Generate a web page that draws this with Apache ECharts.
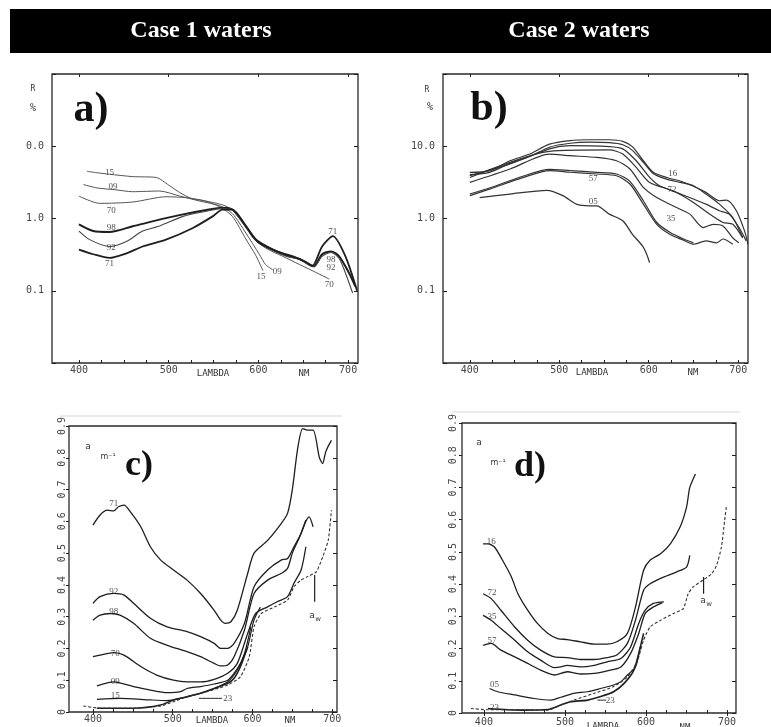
<!DOCTYPE html>
<html><head><meta charset="utf-8">
<script src="https://cdn.jsdelivr.net/npm/echarts@6/dist/echarts.min.js"></script>
<style>html,body{margin:0;padding:0;background:#fff}#c{width:771px;height:727px}</style>
</head><body><div id="c"></div>
<script>
// ---------- DATA ----------
// Panel a) Case 1 reflectance R (%), log scale
const a15_wl = [409,420,434,460,486,500,512,525,540,557,571,586,597,605];
const a15_R  = [4.5,4.3,4.1,3.8,3.7,2.9,2.3,1.9,1.75,1.45,1.07,0.52,0.31,0.19];
const a09_wl = [405,420,440,460,490,512,534,557,571,586,601,608,616];
const a09_R  = [2.95,2.65,2.5,2.35,2.4,2.05,1.75,1.5,1.17,0.63,0.32,0.23,0.195];
const a70_wl = [400,423,460,497,520,542,564,579,594,608,627,646,660,679];
const a70_R  = [2.04,1.62,1.69,2.0,1.94,1.74,1.48,1.07,0.54,0.39,0.30,0.23,0.19,0.145];
const a98_wl = [400,416,434,460,483,516,542,560,571,586,597,616,631,646,657,662,671,681,690,701,708];
const a98_R  = [0.83,0.67,0.65,0.78,0.92,1.14,1.31,1.41,1.33,0.78,0.51,0.37,0.31,0.275,0.23,0.22,0.32,0.35,0.30,0.176,0.115];
const a92_wl = [400,412,434,453,471,490,516,542,560,571,586,597,616,631,646,657,662,671,681,690,697,705];
const a92_R  = [0.67,0.51,0.41,0.48,0.67,0.79,1.07,1.26,1.38,1.32,0.76,0.50,0.36,0.30,0.27,0.224,0.214,0.30,0.34,0.28,0.176,0.093];
const a71_wl = [400,416,434,453,471,497,527,549,560,571,586,600,620,640,653,660,671,683,697,710];
const a71_R  = [0.37,0.32,0.285,0.33,0.41,0.51,0.74,1.07,1.33,1.33,0.79,0.47,0.355,0.295,0.25,0.22,0.41,0.57,0.30,0.10];
const aLabels = [[434,4.3,'15'],[438,2.75,'09'],[436,1.3,'70'],[436,0.74,'98'],[436,0.40,'92'],[434,0.24,'71'],
                 [603,0.158,'15'],[621,0.186,'09'],[679,0.121,'70'],[683,0.667,'71'],[681,0.27,'98'],[681,0.206,'92']];

// Panel b) Case 2 reflectance R (%), log scale
const b16_wl  = [400,422,445,467,489,512,534,556,571,582,594,605,620,635,650,664,679,687,698,707,711];
const b16_R   = [4.35,4.57,6.3,7.8,10.7,12.0,12.3,12.3,11.7,9.8,6.3,4.37,3.7,3.3,2.8,2.3,1.76,1.8,1.28,0.68,0.44];
const b16b_wl = [400,422,445,467,489,512,534,556,571,582,594,605,620,635,650,664,679,694,705];
const b16b_R  = [4.04,4.35,5.8,7.2,9.7,11.0,11.4,11.2,10.5,8.7,6.0,4.2,3.5,3.16,2.84,2.18,1.58,1.03,0.55];
const b72_wl  = [400,445,489,512,556,571,586,601,612,631,650,664,679,690,701,709];
const b72_R   = [3.9,5.7,9.2,10.2,9.9,9.2,6.3,3.7,2.84,2.3,1.86,1.58,1.28,1.15,0.75,0.49];
const b72b_wl = [400,489,556,571,586,601,627,650,668,683,694,705];
const b72b_R  = [3.7,8.5,8.9,7.8,5.1,3.16,2.42,1.67,1.15,0.88,0.83,0.54];
const b35_wl  = [400,445,489,512,542,564,579,594,609,627,646,661,672,683,694,701];
const b35_R   = [3.16,4.84,7.8,7.4,7.0,6.3,4.84,2.7,1.95,1.5,1.15,0.75,0.83,0.79,0.54,0.46];
const b57_wl  = [400,422,460,489,512,542,564,579,594,609,624,639,650,664,676,683,694];
const b57_R   = [2.07,2.55,3.7,4.6,4.37,4.13,3.9,3.0,1.58,0.83,0.6,0.5,0.44,0.49,0.46,0.52,0.44];
const b57b_wl = [400,422,460,489,512,542,564,579,594,609,624,639,650];
const b57b_R  = [2.18,2.64,3.87,4.79,4.6,4.35,4.13,3.27,1.76,0.88,0.64,0.52,0.46];
const b05_wl  = [411,445,486,504,519,534,542,556,571,582,594,601];
const b05_R   = [1.95,2.18,2.45,2.07,1.58,1.5,1.5,1.15,0.93,0.6,0.4,0.245];
const bLabels = [[627,4.2,'16'],[626,2.47,'72'],[625,1.0,'35'],[538,3.6,'57'],[538,1.72,'05']];

// Panel c) Case 1 absorption a (m-1)
const c71_wl = [400,409,418,426,432,439,447,460,472,485,501,518,535,552,560,566,573,581,594,602,619,636,644,650,657,663,669,676,684,688,692,699];
const c71_a  = [0.588,0.62,0.635,0.633,0.646,0.651,0.63,0.583,0.52,0.478,0.447,0.415,0.373,0.32,0.29,0.279,0.284,0.32,0.436,0.5,0.54,0.593,0.625,0.70,0.834,0.892,0.887,0.887,0.80,0.782,0.82,0.855];
const c92_wl = [400,409,426,439,451,472,493,518,535,552,560,569,577,590,602,619,636,644,652,661,667,671,676];
const c92_a  = [0.342,0.363,0.373,0.368,0.342,0.295,0.268,0.253,0.237,0.216,0.20,0.20,0.216,0.279,0.394,0.447,0.478,0.483,0.52,0.562,0.6,0.614,0.583];
const c98_wl = [400,409,422,434,451,472,493,518,535,552,560,569,577,590,602,619,636,644,650,659,667];
const c98_a  = [0.289,0.305,0.31,0.305,0.279,0.232,0.21,0.19,0.174,0.153,0.145,0.148,0.174,0.258,0.373,0.415,0.436,0.452,0.5,0.55,0.604];
const c70_wl = [400,409,426,439,460,480,501,518,535,552,569,581,594,604,619,631,644,652,661,667];
const c70_a  = [0.174,0.179,0.187,0.179,0.143,0.116,0.10,0.095,0.095,0.103,0.122,0.153,0.247,0.31,0.331,0.347,0.363,0.405,0.447,0.52];
const c09_wl = [405,426,451,472,493,510,518,535,552,569,577,585,594,602,610];
const c09_a  = [0.082,0.095,0.08,0.069,0.061,0.064,0.074,0.08,0.088,0.10,0.122,0.153,0.205,0.29,0.33];
const c15_wl = [405,434,472,493,510,535,552,569,581,590,598];
const c15_a  = [0.04,0.043,0.038,0.036,0.043,0.059,0.074,0.095,0.132,0.184,0.268];
const c23_wl = [405,451,485,501,518,535,552,569,577,585,594];
const c23_a  = [0.012,0.012,0.022,0.038,0.048,0.059,0.074,0.09,0.106,0.143,0.205];
const cAw_wl = [388,409,451,485,501,518,543,569,585,596,602,611,628,644,652,661,669,680,688,695,699];
const cAw_a  = [0.019,0.012,0.012,0.019,0.032,0.048,0.064,0.085,0.111,0.174,0.268,0.31,0.331,0.352,0.394,0.415,0.426,0.441,0.488,0.54,0.635];
const cLabels = [[426,0.656,'71'],[426,0.378,'92'],[426,0.316,'98'],[428,0.184,'70'],[428,0.095,'09'],[428,0.053,'15'],[569,0.043,'23']];
const cLead_wl = [533,562]; const cLead_a = [0.043,0.043];
const cArrow_wl = [678,678]; const cArrow_a = [0.347,0.431];

// Panel d) Case 2 absorption a (m-1)
const d16_wl = [399,405,413,423,434,442,454,466,479,491,503,519,536,552,564,577,587,597,605,618,630,642,650,654,661];
const d16_a  = [0.525,0.525,0.515,0.474,0.422,0.37,0.319,0.278,0.247,0.231,0.228,0.221,0.214,0.214,0.221,0.247,0.329,0.443,0.474,0.494,0.525,0.577,0.639,0.70,0.742];
const d72_wl = [399,409,421,438,454,470,487,503,519,536,552,564,577,587,597,605,622,638,650,654];
const d72_a  = [0.37,0.355,0.319,0.267,0.226,0.195,0.174,0.172,0.166,0.166,0.172,0.18,0.216,0.288,0.381,0.401,0.422,0.438,0.453,0.489];
const d35_wl = [399,409,421,438,454,470,487,495,503,519,536,552,569,581,591,599,609,622];
const d35_a  = [0.303,0.288,0.262,0.226,0.19,0.164,0.141,0.143,0.148,0.143,0.148,0.159,0.169,0.205,0.278,0.319,0.34,0.345];
const d57_wl = [399,409,421,438,454,470,487,503,519,536,552,569,581,591,599,609,620];
const d57_a  = [0.21,0.216,0.195,0.174,0.154,0.133,0.118,0.128,0.121,0.123,0.131,0.143,0.185,0.247,0.309,0.329,0.342];
const d05_wl = [407,417,438,462,483,495,511,528,544,560,569,577,587,593];
const d05_a  = [0.076,0.066,0.056,0.045,0.04,0.049,0.061,0.066,0.076,0.087,0.097,0.118,0.143,0.205];
const d23_wl = [405,446,479,495,507,528,544,560,573,585,593,597];
const d23_a  = [0.014,0.009,0.011,0.025,0.035,0.04,0.051,0.066,0.092,0.133,0.205,0.247];
const dAw_wl = [384,405,446,479,495,511,536,560,577,589,597,605,618,634,646,652,658,670,681,687,693,697,699];
const dAw_a  = [0.014,0.01,0.01,0.009,0.025,0.04,0.061,0.082,0.112,0.159,0.226,0.267,0.288,0.309,0.324,0.37,0.391,0.412,0.432,0.458,0.515,0.598,0.639];
const dLabels = [[409,0.532,'16'],[410,0.374,'72'],[410,0.298,'35'],[410,0.224,'57'],[413,0.087,'05'],[413,0.017,'23'],[556,0.038,'23']];
const dLead_wl = [540,551]; const dLead_a = [0.04,0.04];
const dArrow_wl = [671,671]; const dArrow_a = [0.37,0.422];

// Tick labels
const xTickLabels = [400,500,600,700];
const xMinorTicks = [400,425,450,475,500,525,550,575,600,625,650,675,700];
const aYTickText = {10:'0.0', 1:'1.0', 0.1:'0.1'};
const bYTickText = {10:'10.0', 1:'1.0', 0.1:'0.1'};

// ---------- CHART ----------
const zip = (w, v) => w.map((x, i) => [x, v[i]]);
const INK = '#1e1e1e';
const tickFont = {fontFamily:'DejaVu Sans Mono', fontSize:10, color:'#444'};

const grids = [
  {left:52, top:74, width:306, height:289},
  {left:443, top:74, width:305, height:289},
  {left:69, top:426, width:268, height:286},
  {left:462, top:423, width:274, height:290}
].map(g => Object.assign({show:true, borderColor:'#2a2a2a', borderWidth:1.3, backgroundColor:'transparent'}, g));

const xRanges = [[370,711],[370,711],[370,706],[373,711]];
const xLabelMargin = [2,2,2,4];
const xAxes = [];
const yAxes = [];
for (let g = 0; g < 4; g++) {
  xAxes.push({type:'value', gridIndex:g, min:xRanges[g][0], max:xRanges[g][1], position:'bottom',
    axisLine:{show:false}, splitLine:{show:false},
    axisTick:{show:true, inside:true, length:3, customValues:xMinorTicks, lineStyle:{color:INK}},
    axisLabel:Object.assign({show:true, margin:xLabelMargin[g], customValues:xTickLabels}, tickFont)});
  xAxes.push({type:'value', gridIndex:g, min:xRanges[g][0], max:xRanges[g][1], position:'top',
    axisLine:{show:false}, splitLine:{show:false}, axisLabel:{show:false},
    axisTick:{show:true, inside:true, length:3, customValues:xTickLabels, lineStyle:{color:INK}}});
  if (g < 2) {
    const txt = g === 0 ? aYTickText : bYTickText;
    yAxes.push({type:'log', logBase:10, gridIndex:g, min:0.01, max:100, position:'left',
      axisLine:{show:false}, splitLine:{show:false}, minorTick:{show:false},
      axisTick:{show:true, inside:true, length:4, lineStyle:{color:INK}},
      axisLabel:Object.assign({margin:8, formatter: v => txt[v] !== undefined ? txt[v] : (Math.abs(v-10)<1e-6?txt[10]:Math.abs(v-1)<1e-6?txt[1]:Math.abs(v-0.1)<1e-6?txt[0.1]:'')}, tickFont)});
    yAxes.push({type:'log', logBase:10, gridIndex:g, min:0.01, max:100, position:'right',
      axisLine:{show:false}, splitLine:{show:false}, axisLabel:{show:false},
      axisTick:{show:true, inside:true, length:4, lineStyle:{color:INK}}});
  } else {
    yAxes.push({type:'value', gridIndex:g, min:0, max:0.9, interval:0.1, position:'left',
      axisLine:{show:false}, splitLine:{show:false},
      axisTick:{show:true, inside:false, length:3, lineStyle:{color:INK}},
      axisLabel:Object.assign({margin:g===2?2:4, rotate:90, formatter: v => v === 0 ? '0' : v.toFixed(1)}, tickFont)});
    yAxes.push({type:'value', gridIndex:g, min:0, max:0.9, interval:0.1, position:'right',
      axisLine:{show:false}, splitLine:{show:false}, axisLabel:{show:false},
      axisTick:{show:true, inside:true, length:4, lineStyle:{color:INK}}});
  }
}

const curves = [
  [0,a15_wl,a15_R,1.0,'#555'],[0,a09_wl,a09_R,1.0,'#555'],[0,a70_wl,a70_R,1.0,'#555'],
  [0,a98_wl,a98_R,2.0,INK],[0,a92_wl,a92_R,1.1,'#444'],[0,a71_wl,a71_R,1.8,INK],
  [1,b16_wl,b16_R,1.2,'#333'],[1,b16b_wl,b16b_R,1.2,'#333'],[1,b72_wl,b72_R,1.2,'#333'],[1,b72b_wl,b72b_R,1.2,'#333'],
  [1,b35_wl,b35_R,1.2,'#333'],[1,b57_wl,b57_R,1.2,'#333'],[1,b57b_wl,b57b_R,1.2,'#333'],[1,b05_wl,b05_R,1.3,'#333'],
  [2,c71_wl,c71_a,1.3,INK],[2,c92_wl,c92_a,1.3,INK],[2,c98_wl,c98_a,1.3,INK],[2,c70_wl,c70_a,1.3,INK],
  [2,c09_wl,c09_a,1.2,INK],[2,c15_wl,c15_a,1.2,INK],[2,c23_wl,c23_a,1.6,INK],
  [2,cLead_wl,cLead_a,1.0,INK],[2,cArrow_wl,cArrow_a,1.2,INK],
  [3,d16_wl,d16_a,1.3,INK],[3,d72_wl,d72_a,1.3,INK],[3,d35_wl,d35_a,1.3,INK],[3,d57_wl,d57_a,1.3,INK],
  [3,d05_wl,d05_a,1.2,INK],[3,d23_wl,d23_a,1.6,INK],
  [3,dLead_wl,dLead_a,1.0,INK],[3,dArrow_wl,dArrow_a,1.2,INK]
];
const series = curves.map(([g,w,v,lw,col]) => ({type:'line', xAxisIndex:2*g, yAxisIndex:2*g,
  data:zip(w,v), showSymbol:false, symbol:'none', smooth:0.25, silent:true,
  lineStyle:{width:lw, color:col}}));
[[2,cAw_wl,cAw_a],[3,dAw_wl,dAw_a]].forEach(([g,w,v]) => series.push({type:'line', xAxisIndex:2*g, yAxisIndex:2*g,
  data:zip(w,v), showSymbol:false, symbol:'none', smooth:0.2, silent:true,
  lineStyle:{width:1.1, color:'#333', type:[3,2]}}));
[aLabels,bLabels,cLabels,dLabels].forEach((lab,g) => series.push({type:'scatter', xAxisIndex:2*g, yAxisIndex:2*g,
  symbolSize:0, silent:true,
  data:lab.map(([x,y,n]) => ({value:[x,y], name:n})),
  label:{show:true, position:'inside', formatter:'{b}', fontFamily:'Liberation Serif', fontSize:9, color:'#222'}}));

const T = (x,y,text,font,extra) => ({type:'text', x, y, silent:true,
  style:Object.assign({text, font, fill:'#333', align:'center', verticalAlign:'middle'}, extra||{})});
const graphic = [
  {type:'rect', shape:{x:10,y:9,width:761,height:44}, style:{fill:'#000'}, silent:true},
  T(201,31,'Case 1 waters','bold 24px "Liberation Serif"',{fill:'#fff'}),
  T(579,31,'Case 2 waters','bold 24px "Liberation Serif"',{fill:'#fff'}),
  {type:'line', shape:{x1:60,y1:416,x2:342,y2:416}, style:{stroke:'#d6d6d6', lineWidth:1}, silent:true},
  {type:'line', shape:{x1:452,y1:412,x2:740,y2:412}, style:{stroke:'#d6d6d6', lineWidth:1}, silent:true},
  T(91,110,'a)','bold 42px "Liberation Serif"',{fill:'#111'}),
  T(489,109,'b)','bold 42px "Liberation Serif"',{fill:'#111'}),
  T(139,466,'c)','bold 36px "Liberation Serif"',{fill:'#111'}),
  T(530,467,'d)','bold 36px "Liberation Serif"',{fill:'#111'}),
  T(33,89,'R','8px "DejaVu Sans Mono"'), T(33,108,'%','10px "DejaVu Sans Mono"'),
  T(427,90,'R','8px "DejaVu Sans Mono"'), T(430,107,'%','10px "DejaVu Sans Mono"'),
  T(88,447,'a','9px "DejaVu Sans"'), T(108,457,'m⁻¹','8px "DejaVu Sans"'),
  T(479,443,'a','9px "DejaVu Sans"'), T(498,463,'m⁻¹','8px "DejaVu Sans"'),
  T(312,616,'aᵥᵥ','1px sans-serif',{text:'a', font:'9px "DejaVu Sans"'}),
  T(318,619,'w','7px "DejaVu Sans"'),
  T(703,601,'a','9px "DejaVu Sans"'), T(709,604,'w','7px "DejaVu Sans"'),
  T(213,374,'LAMBDA','9px "DejaVu Sans Mono"'), T(304,374,'NM','9px "DejaVu Sans Mono"'),
  T(592,373,'LAMBDA','9px "DejaVu Sans Mono"'), T(693,373,'NM','9px "DejaVu Sans Mono"'),
  T(212,721,'LAMBDA','9px "DejaVu Sans Mono"'), T(290,721,'NM','9px "DejaVu Sans Mono"'),
  T(603,727,'LAMBDA','9px "DejaVu Sans Mono"'), T(685,728,'NM','9px "DejaVu Sans Mono"')
];

const chart = echarts.init(document.getElementById('c'), null, {renderer:'canvas'});
chart.setOption({animation:false, backgroundColor:'#fff', grid:grids, xAxis:xAxes, yAxis:yAxes, series, graphic});
</script></body></html>
